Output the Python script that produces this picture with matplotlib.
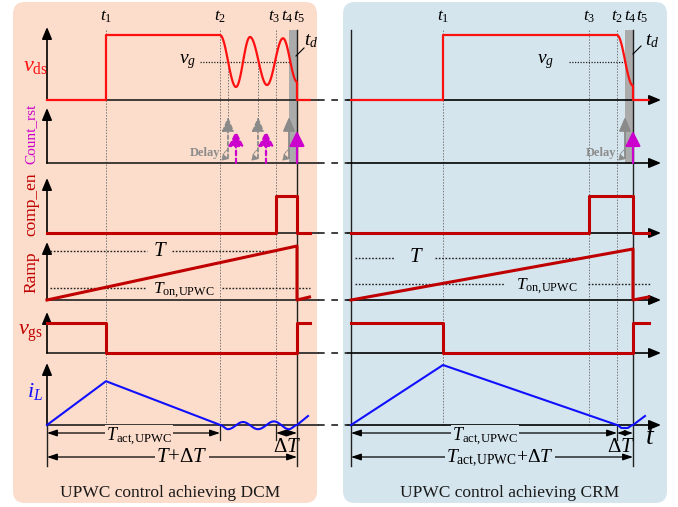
import numpy as np
import matplotlib
matplotlib.use("Agg")
import matplotlib.pyplot as plt
from matplotlib.patches import FancyBboxPatch, Rectangle
from matplotlib.transforms import Affine2D

plt.rcParams['font.family'] = ['Liberation Serif', 'DejaVu Serif']
plt.rcParams['mathtext.fontset'] = 'custom'
plt.rcParams['mathtext.rm'] = 'Liberation Serif'
plt.rcParams['mathtext.it'] = 'Liberation Serif:italic'

# ---- data (time in arbitrary units from the vertical axis, levels normalised) ----
dcm_t1, dcm_t2, dcm_t3, dcm_t4, dcm_t5, dcm_end = 2.36, 6.92, 9.16, 9.68, 10.0, 10.5
crm_t1, crm_t3, crm_t2, crm_t4, crm_t5, crm_end = 3.68, 9.52, 10.64, 10.96, 11.28, 11.9

# v_ds ringing / fall after t2
dcm_ring_t = [6.92, 7.56, 8.12, 8.80, 9.44, 10.0]
dcm_ring_v = [1.0, 0.20, 0.97, 0.23, 0.95, 0.28]
crm_fall_t = [10.64, 11.28]
crm_fall_v = [1.0, 0.22]
vg_level = 0.585

# ramp levels
dcm_ramp_peak, dcm_T, dcm_Ton = 1.08, 0.98, 0.24
crm_ramp_peak, crm_T, crm_Ton = 1.02, 0.84, 0.32
ramp_tail = 0.06

# inductor current
dcm_il_peak = 0.73
crm_il_peak = 1.0
dcm_il_ring_t = [6.92, 7.24, 7.84, 8.44, 9.08, 9.68, 10.0]
dcm_il_ring_v = [0.0, -0.07, 0.05, -0.07, 0.06, -0.07, 0.0]
crm_il_dip_t = [10.64, 10.84, 11.04, 11.28]
crm_il_dip_v = [0.0, -0.05, -0.05, 0.0]
il_tail = 0.15

# Count_rst pulses (delayed valley detection)
dcm_gray = [7.24, 8.44, 9.68]
dcm_mag = [7.56, 8.76, 10.0]
crm_gray = [10.96]
crm_mag = [11.28]

# ---- layout ----
SCALE = 25.0
X0 = {'dcm': 47, 'crm': 351}
ROWS = {'vds': (100, 65, 27), 'cnt': (163, 55, 108), 'comp': (233, 37, 178),
        'ramp': (300, 50, 242), 'vgs': (353, 30, 312), 'il': (425, 60, 363)}
RED = '#FF1010'
DRED = '#C00000'
BLUE = '#1010FF'
MAG = '#CC00CC'
GRAY = '#8C8C8C'
BG_L = '#FCDCCA'
BG_R = '#D5E5EE'

fig = plt.figure(figsize=(6.78, 5.07), dpi=100)
ax = fig.add_axes([0, 0, 1, 1])
ax.set_xlim(0, 678)
ax.set_ylim(507, 0)
ax.axis('off')


def tr(panel, row):
    base, h, _ = ROWS[row]
    return Affine2D().scale(SCALE, -h).translate(X0[panel], base) + ax.transData


def smooth(ts, vs, n=24):
    tt, vv = [], []
    for a in range(len(ts) - 1):
        s = np.linspace(0, 1, n)
        tt.extend(ts[a] + s * (ts[a + 1] - ts[a]))
        vv.extend(vs[a] + (vs[a + 1] - vs[a]) * (1 - np.cos(np.pi * s)) / 2)
    return tt, vv


def arrow(x1, y1, x2, y2, color='k', lw=1.2, style='-|>', ms=12, ls='-', z=3):
    ax.annotate('', xy=(x2, y2), xytext=(x1, y1),
                arrowprops=dict(arrowstyle=style, color=color, lw=lw, ls=ls,
                                mutation_scale=ms, shrinkA=0, shrinkB=0), zorder=z)


# panels
ax.add_patch(FancyBboxPatch((13, 2), 304, 501, boxstyle='round,pad=0,rounding_size=12',
                            fc=BG_L, ec='none', zorder=0))
ax.add_patch(FancyBboxPatch((343, 2), 324, 501, boxstyle='round,pad=0,rounding_size=12',
                            fc=BG_R, ec='none', zorder=0))

# axes lines
for row, (base, h, top) in ROWS.items():
    ax.plot([47, 318], [base, base], color='#202020', lw=1.2, zorder=2)
    ax.plot([318, 348], [base, base], color='#202020', lw=1.2, ls=(0, (4, 4)), zorder=2)
    arrow(348, base, 661, base, style='-|>,head_length=0.6,head_width=0.25')
    arrow(47, base, 47, top, style='-|>,head_length=0.6,head_width=0.25')
ax.plot([47, 47], [425, 466], color='#202020', lw=1.0, zorder=2)
ax.plot([351, 351], [30, 466], color='#202020', lw=1.0, zorder=2)

# gray td bands and t5 lines
for x in (X0['dcm'] + SCALE * dcm_t4, X0['crm'] + SCALE * crm_t4):
    ax.add_patch(Rectangle((x, 30), SCALE * 0.32, 134, fc='#ABABAB', ec='none', zorder=1))
for x in (X0['dcm'] + SCALE * dcm_t5, X0['crm'] + SCALE * crm_t5):
    ax.plot([x, x], [30, 466], color='#202020', lw=1.0, zorder=2)

# dotted guide lines
dot = dict(color='#777777', lw=0.7, ls=(0, (1.5, 1.5)), zorder=1)
for p, ts in (('dcm', [dcm_t1, dcm_t2, dcm_t3]), ('crm', [crm_t1, crm_t3, crm_t2])):
    for t in ts:
        x = X0[p] + SCALE * t
        ax.plot([x, x], [30, 425], **dot)
for t in dcm_gray[:2]:
    x = X0['dcm'] + SCALE * t
    ax.plot([x, x], [62, 120], **dot)
for x in (X0['dcm'] + SCALE * dcm_t2, X0['dcm'] + SCALE * dcm_t3, X0['crm'] + SCALE * crm_t2):
    ax.plot([x, x], [425, 440], color='#202020', lw=0.9, zorder=2)

# ---- waveforms ----
# v_ds
rt, rv = smooth(dcm_ring_t, dcm_ring_v)
ax.plot([0, dcm_t1, dcm_t1] + rt + [dcm_t5, dcm_end], [0, 0, 1] + rv + [0, 0],
        color=RED, lw=1.6, transform=tr('dcm', 'vds'), zorder=4)
ft, fv = smooth(crm_fall_t, crm_fall_v)
ax.plot([0, crm_t1, crm_t1] + ft + [crm_t5, crm_end], [0, 0, 1] + fv + [0, 0],
        color=RED, lw=1.6, transform=tr('crm', 'vds'), zorder=4)

# comp_en
for p, t3, t5, te in (('dcm', dcm_t3, dcm_t5, dcm_end), ('crm', crm_t3, crm_t5, crm_end)):
    ax.plot([0, t3, t3, t5, t5, te], [0, 0, 1, 1, 0, 0], color=DRED, lw=2.2,
            transform=tr(p, 'comp'), zorder=4)

# ramp
for p, t5, te, pk in (('dcm', dcm_t5, dcm_end, dcm_ramp_peak), ('crm', crm_t5, crm_end, crm_ramp_peak)):
    ax.plot([0, t5, t5, te], [0, pk, 0, ramp_tail], color=DRED, lw=2.2,
            transform=tr(p, 'ramp'), zorder=4)

# v_gs
for p, t1, t5, te in (('dcm', dcm_t1, dcm_t5, dcm_end), ('crm', crm_t1, crm_t5, crm_end)):
    ax.plot([0, t1, t1, t5, t5, te], [1, 1, 0, 0, 1, 1], color=DRED, lw=2.2,
            transform=tr(p, 'vgs'), zorder=4)

# i_L
it, iv = smooth(dcm_il_ring_t, dcm_il_ring_v)
ax.plot([0, dcm_t1] + it + [dcm_end - 0.06], [0, dcm_il_peak] + iv + [il_tail],
        color=BLUE, lw=1.5, transform=tr('dcm', 'il'), zorder=4)
ct, cv = smooth(crm_il_dip_t, crm_il_dip_v)
ax.plot([0, crm_t1] + ct + [crm_end - 0.14], [0, crm_il_peak] + cv + [il_tail],
        color=BLUE, lw=1.5, transform=tr('crm', 'il'), zorder=4)

# Count_rst arrows
cb = ROWS['cnt'][0]
for p, grays, mags in (('dcm', dcm_gray, dcm_mag), ('crm', crm_gray, crm_mag)):
    for k, t in enumerate(grays):
        x = X0[p] + SCALE * t
        last = (k == len(grays) - 1)
        arrow(x, cb - 5, x, 117, color='#8A8A8A', lw=1.3, ls='-' if last else (0, (2, 1.5)),
              style='-|>,head_length=0.7,head_width=0.3', ms=12, z=5)
        ax.annotate('', xy=(x + 1, cb - 4), xytext=(x - 1, cb - 13),
                    arrowprops=dict(arrowstyle='-|>,head_length=0.5,head_width=0.25',
                                    color='#8A8A8A', lw=0.7, ls=(0, (1.5, 1)),
                                    connectionstyle='arc3,rad=1.0', mutation_scale=8,
                                    shrinkA=0, shrinkB=0), zorder=5)
    for k, t in enumerate(mags):
        x = X0[p] + SCALE * t
        last = (k == len(mags) - 1)
        arrow(x, cb, x, 131, color=MAG, lw=1.6, ls='-' if last else (0, (2, 1.5)),
              style='-|>,head_length=0.75,head_width=0.38', ms=12, z=6)
ax.text(205, 153, 'Delay', color=GRAY, fontsize=9, fontweight='bold', ha='center', va='center', zorder=6)
ax.text(601, 153, 'Delay', color=GRAY, fontsize=9, fontweight='bold', ha='center', va='center', zorder=6)

# v_g reference
ax.plot([200, 290], [62, 62], color='#202020', lw=0.9, ls=(0, (1, 1.2)), zorder=3)
ax.plot([569, 625], [62, 62], color='#202020', lw=0.9, ls=(0, (1, 1.2)), zorder=3)
ax.text(188, 62, r'$v_g$', fontsize=14, ha='center', va='center')
ax.text(546, 62, r'$v_g$', fontsize=14, ha='center', va='center')

# T / Ton reference lines
rdot = dict(color='#202020', lw=1.0, ls=(0, (1.2, 1.2)), zorder=3)
ax.plot([50, 147], [251, 251], **rdot)
ax.plot([172, 276], [251, 251], **rdot)
ax.plot([50, 145], [288, 288], **rdot)
ax.plot([222, 310], [288, 288], **rdot)
ax.text(160, 251, r'$T$', fontsize=15, ha='center', va='center')
ax.text(184, 290, r'$T_{\rm on,\!UPWC}$', fontsize=12.5, ha='center', va='center')
ax.plot([355, 395], [258, 258], **rdot)
ax.plot([435, 583], [258, 258], **rdot)
ax.plot([355, 505], [284, 284], **rdot)
ax.plot([588, 650], [284, 284], **rdot)
ax.text(416, 258, r'$T$', fontsize=15, ha='center', va='center')
ax.text(547, 286, r'$T_{\rm on,\!UPWC}$', fontsize=12.5, ha='center', va='center')

# time labels
for x, s in ((106, '1'), (220, '2'), (274, '3'), (287, '4'), (299, '5'),
             (443, '1'), (589, '3'), (617, '2'), (630, '4'), (642, '5')):
    ax.text(x, 17, r'$t_{%s}$' % s, fontsize=12.5, ha='center', va='center')
ax.text(311, 41, r'$t_d$', fontsize=14, ha='center', va='center')
ax.plot([296, 304], [56, 48], color='k', lw=0.8)
ax.text(652, 41, r'$t_d$', fontsize=14, ha='center', va='center')
ax.plot([633, 641], [54, 46], color='k', lw=0.8)

# signal names
ax.text(36, 66, r'$v_{\rm ds}$', color=RED, fontsize=16, ha='center', va='center')
ax.text(31, 134, 'Count_rst', color=MAG, fontsize=11, rotation=90, ha='center', va='center')
ax.text(31, 204, 'comp_en', color=DRED, fontsize=12.5, rotation=90, ha='center', va='center')
ax.text(31, 272, 'Ramp', color=DRED, fontsize=12.5, rotation=90, ha='center', va='center')
ax.text(31, 333, r'$v_{\rm gs}$', color=DRED, fontsize=16, ha='center', va='center')
ax.text(35, 392, r'$i_L$', color=BLUE, fontsize=16, ha='center', va='center')

# dimension arrows
dim = '<|-|>,head_length=0.6,head_width=0.2'
arrow(47, 433, 220, 433, lw=0.9, style=dim, ms=10)
arrow(276, 433, 297, 433, lw=0.9, style=dim, ms=10)
arrow(47, 457, 297, 457, lw=0.9, style=dim, ms=10)
arrow(351, 433, 617, 433, lw=0.9, style=dim, ms=10)
arrow(617, 433, 633, 433, lw=0.9, style=dim, ms=8)
arrow(351, 457, 633, 457, lw=0.9, style=dim, ms=10)
lb = dict(boxstyle='square,pad=0.05', ec='none')
ax.text(139, 437, r'$T_{\rm act,\!UPWC}$', fontsize=13, ha='center', va='center',
        bbox=dict(fc=BG_L, **lb), zorder=6)
ax.text(182, 457, r'$T$+$\mathrm{\Delta}T$', fontsize=15, ha='center', va='center',
        bbox=dict(fc=BG_L, **lb), zorder=6)
ax.text(287, 448, r'$\mathrm{\Delta}T$', fontsize=15, ha='center', va='center', zorder=6)
ax.text(485, 437, r'$T_{\rm act,\!UPWC}$', fontsize=13, ha='center', va='center',
        bbox=dict(fc=BG_R, **lb), zorder=6)
ax.text(500, 458, r'$T_{\rm act,\!UPWC}$+$\mathrm{\Delta}T$', fontsize=14, ha='center', va='center',
        bbox=dict(fc=BG_R, **lb), zorder=6)
ax.text(621, 447, r'$\mathrm{\Delta}T$', fontsize=15, ha='center', va='center', zorder=6)
ax.text(650, 437, r'$t$', fontsize=20, ha='center', va='center')

# captions
ax.text(170, 493, 'UPWC control achieving DCM', fontsize=12.5, ha='center', va='center', color='#1a1a1a')
ax.text(510, 493, 'UPWC control achieving CRM', fontsize=12.5, ha='center', va='center', color='#1a1a1a')

fig.savefig('out.png', dpi=100)
